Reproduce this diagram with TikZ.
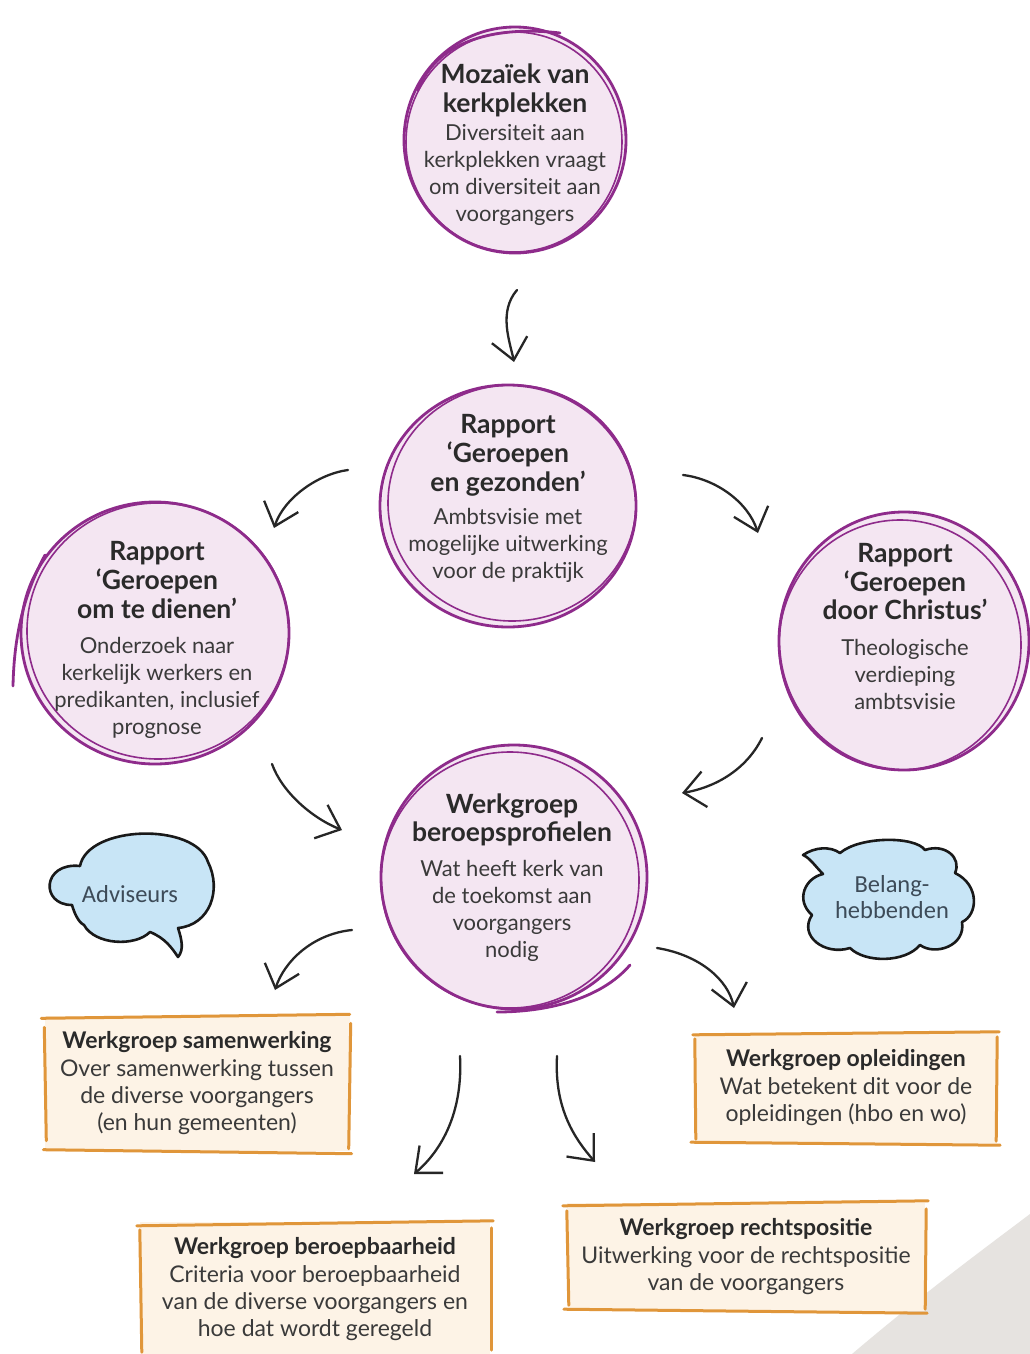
\documentclass[tikz,border=0pt]{standalone}
\usepackage{fontspec}
\setmainfont{Lato}
\newfontfamily\cloudfont{Carlito}
\usetikzlibrary{arrows.meta,calc}
\definecolor{ringc}{HTML}{8E2B8B}
\definecolor{ringfill}{HTML}{F4E6F2}
\definecolor{boxc}{HTML}{E0963A}
\definecolor{boxfill}{HTML}{FDF3E6}
\definecolor{cloudfill}{HTML}{C8E5F6}
\definecolor{ttlc}{HTML}{2A2A2A}
\definecolor{bodyc}{HTML}{3A3A3A}
\definecolor{cloudtxt}{HTML}{3D4B58}
\definecolor{greyc}{HTML}{E6E3E0}
\newcommand\ttlf{\fontsize{26.5}{27}\selectfont\bfseries\color{ttlc}}
\newcommand\bxtf{\fontsize{23}{27}\selectfont\bfseries\color{ttlc}}
\newcommand\bdyf{\fontsize{22}{27}\selectfont}
\newcommand\bxbf{\fontsize{23}{27}\selectfont}
\newcommand\Tl[1]{{\ttlf #1}}
\newcommand\Bt[1]{{\bxtf #1}}
\tikzset{
  txt/.style={align=center, inner sep=0pt, font=\bdyf, text=bodyc},
  ring/.style={draw=ringc, line width=2.8pt, line cap=round},
  ringthin/.style={draw=ringc, line width=1.6pt, line cap=round},
  boxline/.style={draw=boxc, line width=3pt, line cap=round},
  wbox/.style={align=center, inner sep=0pt, font=\bxbf, text=bodyc, fill=boxfill},
  cloudline/.style={draw=black!90, line width=2.6pt, line join=round, fill=cloudfill},
  cloudtext/.style={align=center, inner sep=0pt, font=\cloudfont\fontsize{24.5}{26}\selectfont, text=cloudtxt},
  arr/.style={draw=black!85, line width=2.3pt, line cap=round, -{Straight Barb[length=21pt,width=36pt]}}
}
\begin{document}
\begin{tikzpicture}[x=1pt,y=-1pt]
\useasboundingbox (0,0) rectangle (1030,1354);
\fill[white] (0,0) rectangle (1030,1354);
% grey corner
\fill[greyc] (852,1354) .. controls (925,1292) and (985,1248) .. (1030,1214) -- (1030,1354) -- cycle;

% ---------- circles ----------
% Mozaiek
\fill[ringfill] (515,140) ellipse [x radius=110, y radius=112];
\draw[ring] (515,140) ellipse [x radius=111, y radius=113];
\draw[ringthin] (514,142) ellipse [x radius=108, y radius=110];
\draw[ring] (418,90) .. controls (438,38) and (500,26) .. (560,33);
\node[txt] (moz) at (515,145) {\Tl{Mozaïek van}\\[2pt]\Tl{kerkplekken}\\[1pt]Diversiteit aan\\kerkplekken vraagt\\om diversiteit aan\\voorgangers};

% Geroepen en gezonden
\fill[ringfill] (508,506) ellipse [x radius=126, y radius=120];
\draw[ring] (508,506) ellipse [x radius=128, y radius=121];
\draw[ringthin] (512,503) ellipse [x radius=124, y radius=118];
\node[txt] (gez) at (508,498) {\Tl{Rapport}\\[2pt]\Tl{‘Geroepen}\\[2pt]\Tl{en gezonden’}\\[6pt]Ambtsvisie met\\mogelijke uitwerking\\voor de praktijk};

% Geroepen om te dienen
\fill[ringfill] (155,633) ellipse [x radius=133, y radius=130];
\draw[ring] (155,633) ellipse [x radius=134, y radius=131];
\draw[ringthin] (158,631) ellipse [x radius=131, y radius=128];
\draw[ring] (45,555) .. controls (22,598) and (14,640) .. (13,686);
\node[txt] (dien) at (157,640) {\Tl{Rapport}\\[2pt]\Tl{‘Geroepen}\\[2pt]\Tl{om te dienen’}\\[8pt]Onderzoek naar\\kerkelijk werkers en\\predikanten, inclusief\\prognose};

% Geroepen door Christus
\fill[ringfill] (904,641) ellipse [x radius=124, y radius=128];
\draw[ring] (904,641) ellipse [x radius=125, y radius=129];
\draw[ringthin] (900,645) ellipse [x radius=121, y radius=125];
\node[txt] (chr) at (905,626) {\Tl{Rapport}\\[2pt]\Tl{‘Geroepen}\\[2pt]\Tl{door Christus’}\\[8pt]Theologische\\verdieping\\ambtsvisie};

% Werkgroep beroepsprofielen
\fill[ringfill] (514,877) ellipse [x radius=132, y radius=131];
\draw[ring] (514,877) ellipse [x radius=133, y radius=132];
\draw[ringthin] (510,880) ellipse [x radius=129, y radius=128];
\draw[ring] (630,965) .. controls (600,1000) and (545,1012) .. (497,1012);
\node[txt] (prof) at (512,878) {\Tl{Werkgroep}\\[1pt]\Tl{beroepsprofielen}\\[8pt]Wat heeft kerk van\\de toekomst aan\\voorgangers\\nodig};

% ---------- clouds ----------
\draw[cloudline] (72,905) .. controls (40,905) and (42,862) .. (80,866)
  .. controls (88,825) and (195,822) .. (208,862)
  .. controls (222,890) and (210,925) .. (178,928)
  .. controls (182,940) and (184,950) .. (178,957)
  .. controls (172,948) and (165,938) .. (150,932)
  .. controls (135,947) and (95,945) .. (84,925)
  .. controls (78,922) and (74,912) .. (72,905) -- cycle;
\node[cloudtext] (adv) at (130,894) {Adviseurs};

\draw[cloudline] (840,853) .. controls (860,836) and (915,836) .. (925,850)
  .. controls (945,843) and (962,858) .. (955,873)
  .. controls (980,885) and (978,915) .. (962,922)
  .. controls (966,946) and (935,956) .. (920,945)
  .. controls (905,963) and (865,963) .. (850,948)
  .. controls (825,956) and (798,936) .. (812,915)
  .. controls (795,900) and (805,878) .. (823,874)
  .. controls (815,866) and (810,858) .. (803,855)
  .. controls (815,847) and (830,846) .. (840,853) -- cycle;
\node[cloudtext] (bel) at (892,897) {Belang-\\hebbenden};

% ---------- boxes ----------
\node[wbox, minimum width=305pt, minimum height=135pt] (samen) at (197,1083) {\Bt{Werkgroep samenwerking}\\[1pt]Over samenwerking tussen\\de diverse voorgangers\\(en hun gemeenten)};
\draw[boxline] ($(samen.north west)+(-3,3)$) -- ($(samen.north east)+(0,-1)$);
\draw[boxline] ($(samen.north east)+(1,8)$) -- ($(samen.south east)+(-1,-2)$);
\draw[boxline] ($(samen.south west)+(-1,-1)$) -- ($(samen.south east)+(2,3)$);
\draw[boxline] ($(samen.north west)+(0,12)$) -- ($(samen.south west)+(2,-10)$);

\node[wbox, minimum width=302pt, minimum height=110pt] (opl) at (846,1088) {\Bt{Werkgroep opleidingen}\\[1pt]Wat betekent dit voor de\\opleidingen (hbo en wo)};
\draw[boxline] ($(opl.north west)+(-2,2)$) -- ($(opl.north east)+(2,-1)$);
\draw[boxline] ($(opl.north east)+(0,4)$) -- ($(opl.south east)+(-1,-2)$);
\draw[boxline] ($(opl.south west)+(-4,-1)$) -- ($(opl.south east)+(3,2)$);
\draw[boxline] ($(opl.north west)+(0,6)$) -- ($(opl.south west)+(1,-4)$);

\node[wbox, minimum width=350pt, minimum height=134pt] (baar) at (315,1289) {\Bt{Werkgroep beroepbaarheid}\\[1pt]Criteria voor beroepbaarheid\\van de diverse voorgangers en\\hoe dat wordt geregeld};
\draw[boxline] ($(baar.north west)+(-3,4)$) -- ($(baar.north east)+(3,-1)$);
\draw[boxline] ($(baar.north east)+(1,6)$) -- ($(baar.south east)+(1,-6)$);
\draw[boxline] ($(baar.south west)+(-2,0)$) -- ($(baar.south east)+(2,1)$);
\draw[boxline] ($(baar.north west)+(0,8)$) -- ($(baar.south west)+(2,-4)$);

\node[wbox, minimum width=358pt, minimum height=108pt] (recht) at (746,1257) {\Bt{Werkgroep rechtspositie}\\[1pt]Uitwerking voor de rechtspositie\\van de voorgangers};
\draw[boxline] ($(recht.north west)+(-4,3)$) -- ($(recht.north east)+(3,-2)$);
\draw[boxline] ($(recht.north east)+(1,6)$) -- ($(recht.south east)+(0,-2)$);
\draw[boxline] ($(recht.south west)+(-3,-2)$) -- ($(recht.south east)+(2,2)$);
\draw[boxline] ($(recht.north west)+(0,8)$) -- ($(recht.south west)+(2,-6)$);

% ---------- arrows ----------
\coordinate (a1s) at (517,290); \coordinate (a1e) at (514,362);
\coordinate (a2s) at (348,470); \coordinate (a2e) at (274,528);
\coordinate (a3s) at (683,475); \coordinate (a3e) at (758,533);
\coordinate (a4s) at (272,764); \coordinate (a4e) at (342,830);
\coordinate (a5s) at (762,738); \coordinate (a5e) at (682,793);
\coordinate (a6s) at (352,930); \coordinate (a6e) at (275,990);
\coordinate (a7s) at (657,948); \coordinate (a7e) at (734,1008);
\coordinate (a8s) at (460,1056); \coordinate (a8e) at (414,1174);
\coordinate (a9s) at (557,1056); \coordinate (a9e) at (595,1162);
\draw[arr] (a1s) .. controls (498,312) and (510,342) .. (a1e);
\draw[arr] (a2s) .. controls (318,474) and (284,498) .. (a2e);
\draw[arr] (a3s) .. controls (716,479) and (748,502) .. (a3e);
\draw[arr] (a4s) .. controls (282,792) and (312,818) .. (a4e);
\draw[arr] (a5s) .. controls (745,772) and (712,788) .. (a5e);
\draw[arr] (a6s) .. controls (312,934) and (284,962) .. (a6e);
\draw[arr] (a7s) .. controls (700,955) and (728,980) .. (a7e);
\draw[arr] (a8s) .. controls (463,1112) and (442,1150) .. (a8e);
\draw[arr] (a9s) .. controls (554,1110) and (576,1140) .. (a9e);
\end{tikzpicture}
\end{document}
